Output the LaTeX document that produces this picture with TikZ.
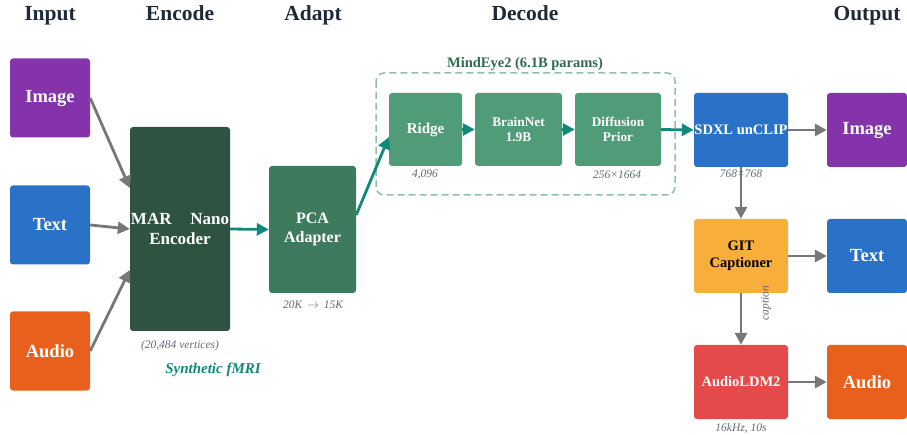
\documentclass[tikz,border=0pt]{standalone}
\usepackage{fontspec}
\setmainfont{Liberation Serif}
\usetikzlibrary{arrows.meta}
\definecolor{cpurple}{HTML}{8533AA}
\definecolor{cblue}{HTML}{2A72C8}
\definecolor{corange}{HTML}{E8601C}
\definecolor{cdark}{HTML}{2E5441}
\definecolor{cpca}{HTML}{3E7A5E}
\definecolor{cmid}{HTML}{519C78}
\definecolor{cdash}{HTML}{8FC0A8}
\definecolor{ctitle}{HTML}{2E6B4F}
\definecolor{cteal}{HTML}{11897A}
\definecolor{cgray}{HTML}{777777}
\definecolor{cnote}{HTML}{5F6B72}
\definecolor{cgit}{HTML}{F7AE3B}
\definecolor{cred}{HTML}{E54A4A}
\definecolor{chead}{HTML}{1F2A36}
\tikzset{
  x=1pt, y=-1pt,
  blk/.style={draw=none, rounded corners=3pt, inner sep=0pt, align=center, text=white, font=\bfseries},
  head/.style={anchor=base, font=\bfseries\fontsize{21.5}{24}\selectfont, text=chead},
  note/.style={font=\itshape\fontsize{11.5}{13}\selectfont, text=cnote},
  garrow/.style={draw=cgray, line width=2.8pt, -{Triangle[length=12pt,width=12pt]}},
  tarrow/.style={draw=cteal, line width=2.8pt, -{Triangle[length=12pt,width=12pt]}},
  big/.style={font=\bfseries\fontsize{18.5}{21}\selectfont},
  mid/.style={font=\bfseries\fontsize{14.5}{17}\selectfont},
}
\begin{document}
\begin{tikzpicture}
\useasboundingbox (0,0) rectangle (907,435);
% headers
\node[head] (hin) at (50,21) {Input};
\node[head] (henc) at (180,21) {Encode};
\node[head] (hada) at (313,21) {Adapt};
\node[head] (hdec) at (525,21) {Decode};
\node[head] (hout) at (867,21) {Output};
% inputs
\node[blk, big, fill=cpurple, minimum width=80pt, minimum height=79pt] (iimg) at (50,98) {Image};
\node[blk, big, fill=cblue, minimum width=80pt, minimum height=79pt] (itxt) at (50,225) {Text};
\node[blk, big, fill=corange, minimum width=80pt, minimum height=79pt] (iaud) at (50,351) {Audio};
% encoder
\node[blk, fill=cdark, minimum width=100pt, minimum height=204pt, font=\bfseries\fontsize{17}{20}\selectfont] (enc) at (180,229) {MAR\hspace{1.1em}Nano\\Encoder};
\node[note] (encn) at (180,346) {(20,484 vertices)};
\node[font=\bfseries\itshape\fontsize{15}{17}\selectfont, text=cteal] (syn) at (213,370) {Synthetic fMRI};
% PCA
\node[blk, fill=cpca, minimum width=87pt, minimum height=127pt, font=\bfseries\fontsize{16}{19}\selectfont] (pca) at (312.5,229.5) {PCA\\Adapter};
\node[note] (pcan) at (313,305) {20K \,$\rightarrow$\, 15K};
% MindEye2 box
\draw[cdash, dashed, dash pattern=on 7pt off 4pt, line width=1.5pt, rounded corners=8pt] (376,73) rectangle (675,195);
\node[font=\bfseries\fontsize{14.5}{16}\selectfont, text=ctitle] (met) at (525,64) {MindEye2 (6.1B params)};
\node[blk, fill=cmid, minimum width=73pt, minimum height=73pt, font=\bfseries\fontsize{15}{17}\selectfont] (ridge) at (425.5,129.5) {Ridge};
\node[blk, fill=cmid, minimum width=87pt, minimum height=73pt, font=\bfseries\fontsize{13.3}{15.5}\selectfont] (brain) at (518.5,129.5) {BrainNet\\1.9B};
\node[blk, fill=cmid, minimum width=86pt, minimum height=73pt, font=\bfseries\fontsize{13.3}{15.5}\selectfont] (prior) at (618,129.5) {Diffusion\\Prior};
\node[note] (ridgen) at (425,175) {4,096};
\node[note] (priorn) at (617,175) {256×1664};
% right column
\node[blk, mid, fill=cblue, minimum width=94pt, minimum height=74pt] (sdxl) at (741,130) {SDXL unCLIP};
\node[note] (sdxln) at (741,174) {768×768};
\node[blk, mid, fill=cgit, text=black, minimum width=94pt, minimum height=74pt] (git) at (741,256) {GIT\\Captioner};
\node[blk, mid, fill=cred, minimum width=94pt, minimum height=74pt] (aldm) at (741,382) {AudioLDM2};
\node[note] (aldmn) at (741,428) {16kHz, 10s};
\node[note, rotate=90] (capn) at (766,303) {caption};
% outputs
\node[blk, big, fill=cpurple, minimum width=80pt, minimum height=74pt] (oimg) at (867,130) {Image};
\node[blk, big, fill=cblue, minimum width=80pt, minimum height=74pt] (otxt) at (867,256) {Text};
\node[blk, big, fill=corange, minimum width=80pt, minimum height=74pt] (oaud) at (867,382) {Audio};
% connectors
\draw[garrow] (iimg.east) -- (enc.west |- 0,188);
\draw[garrow] (itxt.east) -- (enc.west |- 0,229);
\draw[garrow] (iaud.east) -- (enc.west |- 0,270);
\draw[tarrow] (enc.east) -- (pca.west);
\draw[tarrow] (pca.east |- 0,215) -- (ridge.west |- 0,137);
\draw[tarrow] (ridge.east) -- (brain.west);
\draw[tarrow] (brain.east) -- (prior.west);
\draw[tarrow] (prior.east) -- (sdxl.west);
\draw[garrow] (sdxl.east) -- (oimg.west);
\draw[garrow] (sdxl.south) -- (git.north);
\draw[garrow] (git.east) -- (otxt.west);
\draw[garrow] (git.south) -- (aldm.north);
\draw[garrow] (aldm.east) -- (oaud.west);
\end{tikzpicture}
\end{document}
